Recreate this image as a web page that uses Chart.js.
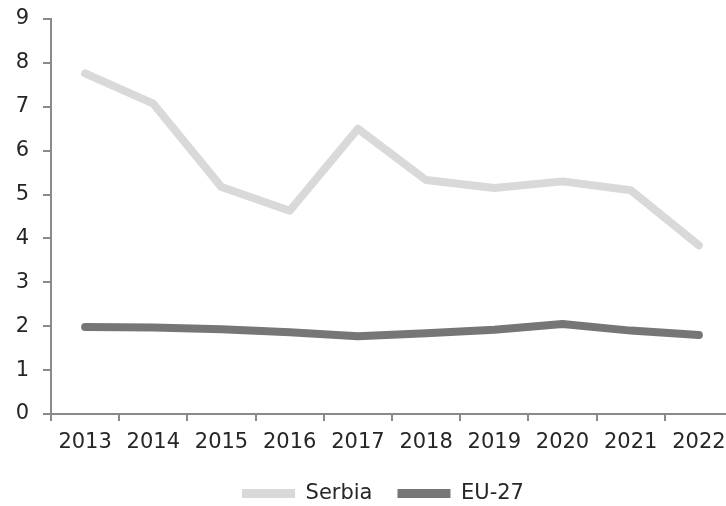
<!DOCTYPE html>
<html>
<head>
<meta charset="utf-8">
<script src="https://cdn.jsdelivr.net/npm/chart.js@4"></script>
<style>
  html, body { margin: 0; padding: 0; background: #fff; overflow: hidden; }
</style>
</head>
<body>
<canvas id="myChart" width="762" height="506"></canvas>
<script>
const years = ["2013", "2014", "2015", "2016", "2017", "2018", "2019", "2020", "2021", "2022"];
const serbia = [7.76, 7.07, 5.17, 4.63, 6.5, 5.33, 5.15, 5.3, 5.1, 3.84];
const eu27 = [1.98, 1.97, 1.93, 1.86, 1.77, 1.84, 1.92, 2.05, 1.9, 1.8];
const yTicks = [0, 1, 2, 3, 4, 5, 6, 7, 8, 9];

const axisColor = "#8a8a8a";
const textColor = "#262626";
const font = { family: "'DejaVu Sans', sans-serif", size: 21 };

// the legend sits a little right of the plot centre in the original
const legendShift = {
  id: "legendShift",
  afterLayout(chart) {
    chart.legend.left += 33;
  },
};

chartIt();

function chartIt() {
  const ctx = document.getElementById("myChart");

  new Chart(ctx, {
    type: "line",
    data: {
      labels: years,
      datasets: [
        {
          label: "Serbia",
          data: serbia,
          borderColor: "#d9d9d9",
          backgroundColor: "#d9d9d9",
          borderWidth: 8,
          borderCapStyle: "round",
          borderJoinStyle: "round",
          pointRadius: 0,
          tension: 0,
        },
        {
          label: "EU-27",
          data: eu27,
          borderColor: "#767676",
          backgroundColor: "#767676",
          borderWidth: 8,
          borderCapStyle: "round",
          borderJoinStyle: "round",
          pointRadius: 0,
          tension: 0,
        },
      ],
    },
    plugins: [legendShift],
    options: {
      responsive: false,
      animation: false,
      devicePixelRatio: 1,
      layout: {
        // canvas is wider than the window: the plot runs past the right edge like the original
        padding: { left: 0, right: 29, top: 19, bottom: -8 },
      },
      plugins: {
        tooltip: { enabled: false },
        legend: {
          position: "bottom",
          labels: {
            usePointStyle: true,
            pointStyle: "line",
            pointStyleWidth: 53,
            padding: 25,
            color: textColor,
            font: font,
            generateLabels: (chart) =>
              Chart.defaults.plugins.legend.labels
                .generateLabels(chart)
                .map((item) => ({ ...item, lineCap: "butt", lineWidth: 9 })),
          },
        },
      },
      scales: {
        x: {
          offset: true,
          afterFit: (scale) => {
            scale.height = 44;
          },
          grid: {
            offset: true,
            drawOnChartArea: false,
            drawTicks: true,
            tickLength: 7,
            color: axisColor,
            lineWidth: 2,
          },
          border: { display: true, color: axisColor, width: 2 },
          ticks: {
            color: textColor,
            font: font,
            padding: 9,
            maxRotation: 0,
            autoSkip: false,
          },
        },
        y: {
          min: 0,
          max: 9,
          afterFit: (scale) => {
            scale.width = 51;
            scale.paddingTop = 0;
            scale.paddingBottom = 0;
          },
          afterBuildTicks: (scale) => {
            scale.ticks = yTicks.map((v) => ({ value: v }));
          },
          grid: {
            drawOnChartArea: false,
            drawTicks: true,
            tickLength: 8,
            color: axisColor,
            lineWidth: 2,
          },
          border: { display: true, color: axisColor, width: 2 },
          ticks: {
            color: textColor,
            font: font,
            padding: 14,
          },
        },
      },
    },
  });
}
</script>
</body>
</html>
